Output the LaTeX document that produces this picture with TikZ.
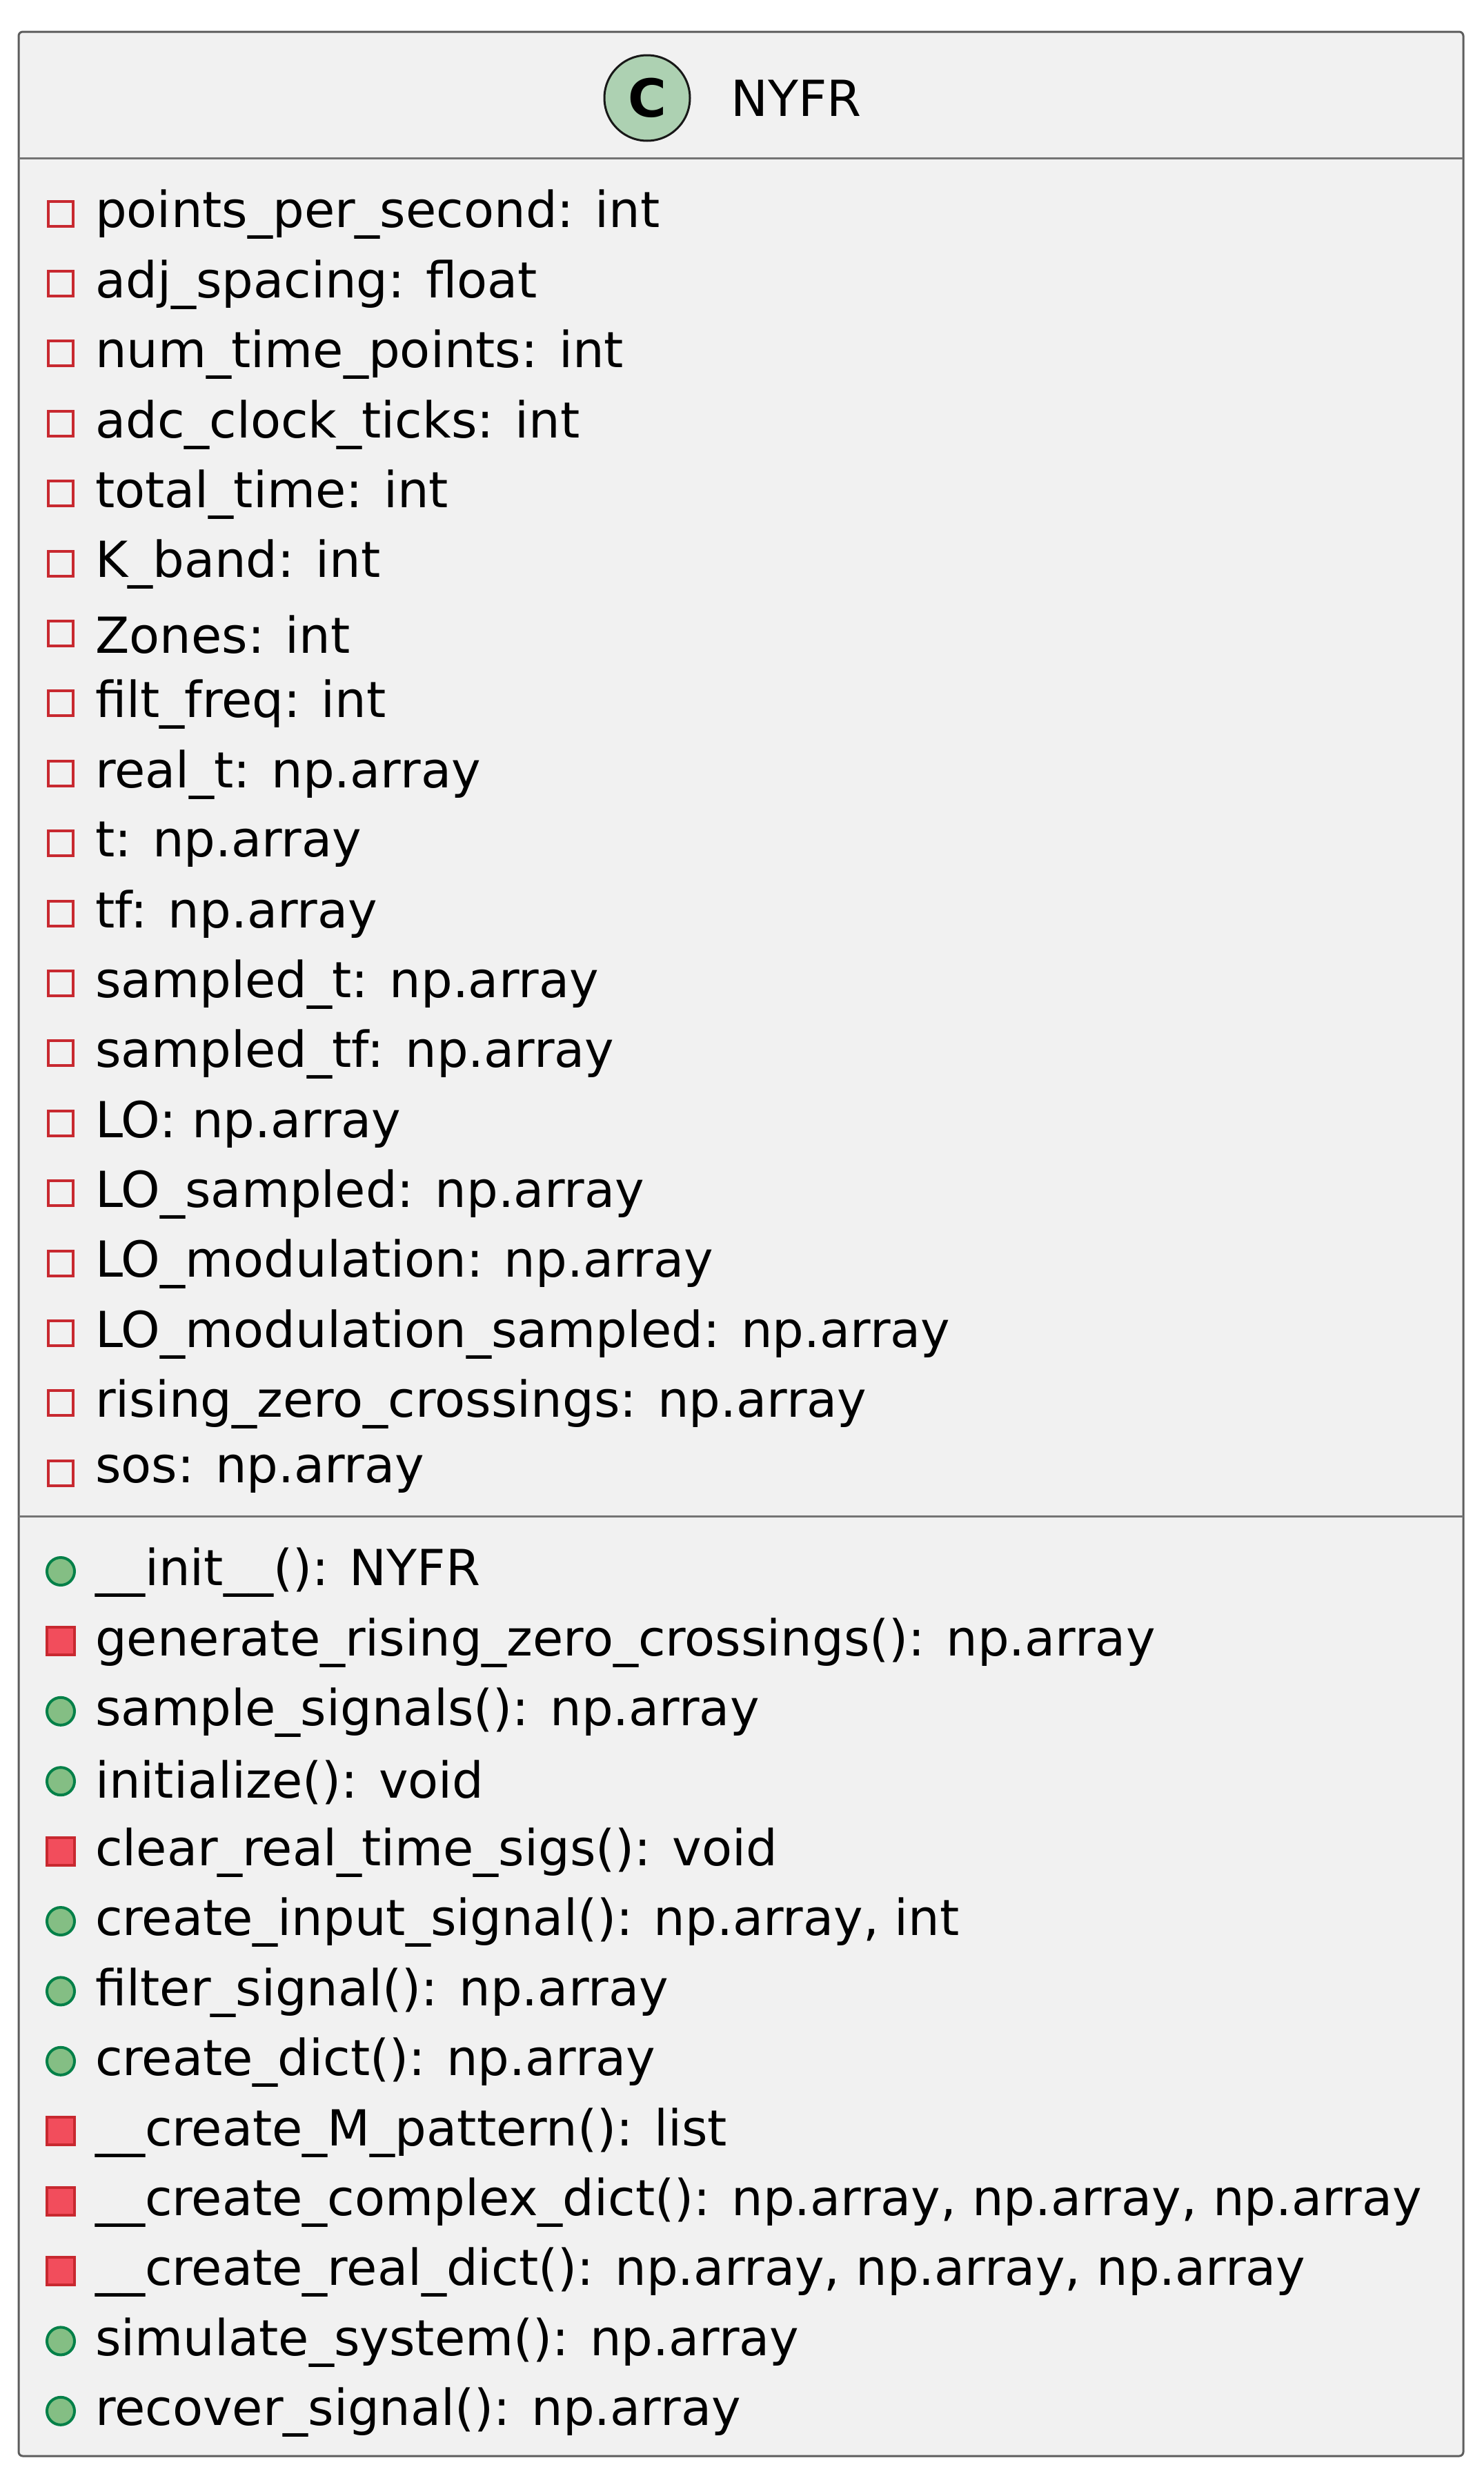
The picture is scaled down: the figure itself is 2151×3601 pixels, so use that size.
\documentclass[tikz,border=0pt]{standalone}
\usepackage{fontspec}
\setmainfont{DejaVu Sans}
\definecolor{bg}{HTML}{F1F1F1}
\definecolor{bd}{HTML}{181818}
\definecolor{pr}{HTML}{C82930}
\definecolor{prf}{HTML}{F24D5C}
\definecolor{pu}{HTML}{038048}
\definecolor{puf}{HTML}{84BE84}
\definecolor{cf}{HTML}{ADD1B2}
\begin{document}
\begin{tikzpicture}[x=1pt,y=-1pt,
  txt/.style={anchor=west,inner sep=0pt,font=\fontsize{72}{84}\selectfont},
  privatt/.style={draw=pr,line width=4pt,fill=none,minimum size=36pt,inner sep=0pt},
  privmeth/.style={draw=pr,line width=4pt,fill=prf,minimum size=40pt,inner sep=0pt},
  pubmeth/.style={circle,draw=pu,line width=4pt,fill=puf,minimum size=40pt,inner sep=0pt}]
\useasboundingbox (0,0) rectangle (2151,3601);
\draw[bd!70,line width=3pt,fill=bg,rounded corners=6pt] (27,46) rectangle (2121,3559);
\draw[bd!60,line width=3pt] (27,229) -- (2121,229);
\draw[bd!60,line width=3pt] (27,2197) -- (2121,2197);
\node[circle,draw=bd,line width=3pt,fill=cf,minimum size=124pt] (ic) at (938,142) {};
\node[font=\fontsize{76}{90}\selectfont\bfseries] at (ic) {C};
\node[txt] (title) at (1059,142) {NYFR};
\foreach \t [count=\i from 0] in {points\_per\_second: int,adj\_spacing: float,num\_time\_points: int,adc\_clock\_ticks: int,total\_time: int,K\_band: int,Zones: int,filt\_freq: int,real\_t: np.array,t: np.array,tf: np.array,sampled\_t: np.array,sampled\_tf: np.array,LO: np.array,LO\_sampled: np.array,LO\_modulation: np.array,LO\_modulation\_sampled: np.array,rising\_zero\_crossings: np.array,sos: np.array}{
  \node[privatt] (a\i) at (88,309.6+101.4*\i) {};
  \node[txt] (at\i) at (138,311+101.4*\i) {\t};
}
\foreach \t/\s [count=\i from 0] in {\_\_init\_\_(): NYFR/pubmeth,generate\_rising\_zero\_crossings(): np.array/privmeth,sample\_signals(): np.array/pubmeth,initialize(): void/pubmeth,clear\_real\_time\_sigs(): void/privmeth,{create\_input\_signal(): np.array, int}/pubmeth,filter\_signal(): np.array/pubmeth,create\_dict(): np.array/pubmeth,\_\_create\_M\_pattern(): list/privmeth,{\_\_create\_complex\_dict(): np.array, np.array, np.array}/privmeth,{\_\_create\_real\_dict(): np.array, np.array, np.array}/privmeth,simulate\_system(): np.array/pubmeth,recover\_signal(): np.array/pubmeth}{
  \node[\s] (m\i) at (88,2277+101.4*\i) {};
  \node[txt] (mt\i) at (138,2279+101.4*\i) {\t};
}
\end{tikzpicture}
\end{document}
